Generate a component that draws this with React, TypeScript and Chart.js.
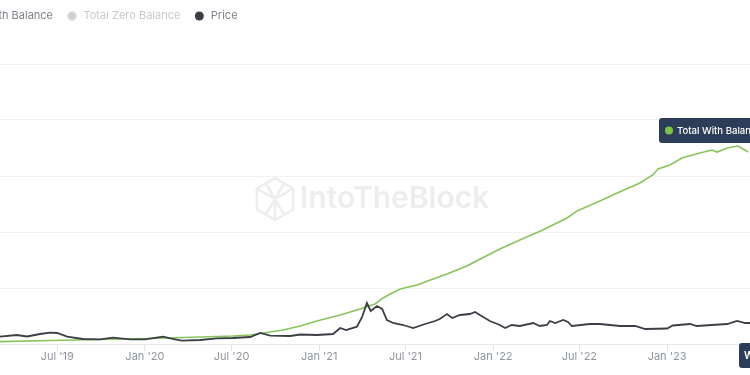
import React, { useEffect, useRef } from "react";
import { Chart, registerables } from "chart.js";

Chart.register(...registerables);

// ---- Axis ----
const axisStart = "2019-03-03";
const axisEnd = "2023-06-24";
const xTickDates = ["2019-07-01", "2020-01-01", "2020-07-01", "2021-01-01", "2021-07-01", "2022-01-01", "2022-07-01", "2023-01-01"];
const xTickLabels = ["Jul '19", "Jan '20", "Jul '20", "Jan '21", "Jul '21", "Jan '22", "Jul '22", "Jan '23"];

// ---- Total With Balance (left scale, thousands of addresses) ----
const withBalanceDates = [
  "2019-03-03", "2019-06-16", "2019-09-29", "2020-01-12", "2020-04-26", "2020-07-04", "2020-08-09",
  "2020-10-17", "2020-11-22", "2020-12-27", "2021-02-14", "2021-03-28", "2021-04-28", "2021-05-15",
  "2021-05-30", "2021-06-20", "2021-07-25", "2021-08-28", "2021-09-26", "2021-11-07", "2021-12-05",
  "2022-01-15", "2022-02-26", "2022-04-15", "2022-06-05", "2022-06-26", "2022-08-13", "2022-09-09",
  "2022-11-05", "2022-12-02", "2022-12-13", "2023-01-07", "2023-02-01", "2023-03-11", "2023-04-05",
  "2023-04-16", "2023-05-07", "2023-05-30", "2023-06-20",
];
const withBalanceValues = [
  2.1, 3.1, 4.0, 4.9, 6.3, 7.1, 8.0,
  12.5, 16.1, 20.5, 25.9, 31.2, 35.7, 41.1,
  44.6, 49.1, 52.7, 58.0, 62.5, 69.6, 75.9,
  84.8, 92.9, 101.8, 112.5, 118.8, 127.7, 133.0,
  143.8, 150.9, 156.3, 159.8, 166.1, 170.5, 173.2,
  171.4, 175.0, 176.8, 171.4,
];

// ---- Total Zero Balance (hidden in the reference) ----
const zeroBalanceDates: string[] = [];
const zeroBalanceValues: number[] = [];

// ---- Price (right scale) ----
const priceDates = [
  "2019-03-03", "2019-04-07", "2019-04-29", "2019-05-26", "2019-06-16", "2019-07-01", "2019-07-22",
  "2019-08-24", "2019-09-29", "2019-10-26", "2019-12-01", "2020-01-01", "2020-02-08", "2020-03-04",
  "2020-03-19", "2020-04-26", "2020-05-31", "2020-07-04", "2020-08-09", "2020-08-30", "2020-09-20",
  "2020-11-01", "2020-11-22", "2020-12-27", "2021-01-30", "2021-02-14", "2021-02-26", "2021-03-21",
  "2021-04-01", "2021-04-11", "2021-04-19", "2021-05-02", "2021-05-13", "2021-05-23", "2021-06-05",
  "2021-06-26", "2021-07-10", "2021-07-17", "2021-08-11", "2021-09-01", "2021-09-11", "2021-09-26",
  "2021-10-07", "2021-10-23", "2021-11-13", "2021-11-24", "2021-12-04", "2021-12-25", "2022-01-15",
  "2022-01-26", "2022-02-09", "2022-02-26", "2022-03-26", "2022-04-09", "2022-04-24", "2022-04-30",
  "2022-05-11", "2022-05-28", "2022-06-07", "2022-06-15", "2022-07-23", "2022-08-13", "2022-09-24",
  "2022-10-26", "2022-11-16", "2023-01-01", "2023-01-13", "2023-02-18", "2023-03-04", "2023-05-07",
  "2023-05-28", "2023-06-14", "2023-06-24",
];
const priceValues = [
  0.73, 0.9, 0.75, 1.0, 1.13, 1.1, 0.73,
  0.5, 0.47, 0.63, 0.47, 0.47, 0.73, 0.47,
  0.33, 0.4, 0.57, 0.6, 0.7, 1.1, 0.83,
  0.8, 0.95, 0.9, 1.0, 1.6, 1.4, 1.73,
  2.7, 4.1, 3.3, 3.8, 3.5, 2.4, 2.1,
  1.9, 1.7, 1.6, 2.0, 2.3, 2.5, 3.0,
  2.6, 2.9, 3.0, 3.2, 2.9, 2.3, 1.9,
  1.6, 1.9, 1.8, 2.1, 1.8, 1.9, 2.3,
  2.1, 2.4, 2.2, 1.8, 2.0, 2.0, 1.8,
  1.8, 1.5, 1.55, 1.85, 2.0, 1.8, 2.0,
  2.3, 2.1, 2.1,
];

const DAY = 86400000;
const toDay = (s: string) => Date.parse(s + "T00:00:00Z") / DAY;
const toPoints = (dates: string[], values: number[]) => dates.map((d, i) => ({ x: toDay(d), y: values[i] }));

const GREEN = "#87c55c";
const PRICE = "#3b3f46";
const NAVY = "#2c3d5a";

const overlayPlugin = {
  id: "overlay",
  beforeDatasetsDraw(chart: any) {
    const { ctx, chartArea } = chart;
    const cx = (chartArea.left + chartArea.right) / 2;
    const cy = (chartArea.top + chartArea.bottom) / 2 - 5;
    ctx.save();
    // logo
    const lx = cx - 100, r = 21;
    ctx.strokeStyle = "#ededed";
    ctx.lineWidth = 2.5;
    ctx.lineJoin = "round";
    ctx.beginPath();
    for (let i = 0; i < 6; i++) {
      const a = -Math.PI / 2 + (i * Math.PI) / 3;
      const px = lx + r * Math.cos(a), py = cy + r * Math.sin(a);
      if (i === 0) ctx.moveTo(px, py); else ctx.lineTo(px, py);
    }
    ctx.closePath();
    ctx.stroke();
    ctx.beginPath();
    const v = (i: number) => { const a = -Math.PI / 2 + (i * Math.PI) / 3; return [lx + r * Math.cos(a), cy + r * Math.sin(a)]; };
    const [x1, y1] = v(1), [x3, y3] = v(3), [x5, y5] = v(5), [x0, y0] = v(0), [x2, y2] = v(2), [x4, y4] = v(4);
    ctx.moveTo(x5, y5); ctx.lineTo(lx, cy); ctx.lineTo(x1, y1);
    ctx.moveTo(lx, cy); ctx.lineTo(x3, y3);
    ctx.moveTo((x0 + x5) / 2, (y0 + y5) / 2); ctx.lineTo((x2 + x3) / 2, (y2 + y3) / 2);
    ctx.moveTo((x0 + x1) / 2, (y0 + y1) / 2); ctx.lineTo((x4 + x3) / 2, (y4 + y3) / 2);
    ctx.stroke();
    // text
    ctx.fillStyle = "#ededed";
    ctx.font = "600 30px Inter";
    ctx.textBaseline = "alphabetic";
    ctx.textAlign = "left";
    ctx.fillText("IntoTheBlock", cx - 75, cy + 9);
    ctx.restore();
  },
  afterDraw(chart: any) {
    const { ctx, chartArea } = chart;
    ctx.save();
    // legend
    ctx.font = "11px Inter";
    ctx.textBaseline = "middle";
    ctx.textAlign = "left";
    let x = -55;
    const y = 16;
    chart.data.datasets.forEach((ds: any) => {
      const hidden = !!ds.hidden;
      ctx.fillStyle = hidden ? "#d2d2d2" : ds.borderColor;
      ctx.beginPath();
      ctx.arc(x, y, 4.5, 0, Math.PI * 2);
      ctx.fill();
      ctx.fillStyle = hidden ? "#c9c9c9" : "#7d828a";
      ctx.fillText(ds.label, x + 11.5, y);
      x += 11.5 + ctx.measureText(ds.label).width + 19;
    });
    // tooltip box
    const tx = chartArea.right - 91, ty = chartArea.top + 54;
    ctx.fillStyle = NAVY;
    ctx.beginPath();
    ctx.roundRect(tx, ty, 140, 25, 3);
    ctx.fill();
    ctx.fillStyle = "#7cc444";
    ctx.beginPath();
    ctx.arc(tx + 10, ty + 12.5, 4, 0, Math.PI * 2);
    ctx.fill();
    ctx.fillStyle = "#ffffff";
    ctx.font = "500 9.6px Inter";
    ctx.fillText("Total With Balance", tx + 18, ty + 13);
    // crosshair date label
    const bx = chartArea.right - 11, by = chartArea.bottom - 1;
    ctx.fillStyle = NAVY;
    ctx.beginPath();
    ctx.roundRect(bx, by, 80, 25, 3);
    ctx.fill();
    ctx.fillStyle = "#ffffff";
    ctx.font = "600 10px Inter";
    ctx.fillText("W", bx + 5, by + 12.5);
    ctx.restore();
  },
};

export default function App() {
  const ref = useRef<HTMLCanvasElement | null>(null);
  useEffect(() => {
    document.body.style.margin = "0";
    if (!ref.current) return;
    Chart.defaults.font.family = "Inter";
    const chart = new Chart(ref.current, {
      type: "line",
      data: {
        datasets: [
          {
            label: "Total With Balance",
            data: toPoints(withBalanceDates, withBalanceValues),
            borderColor: GREEN,
            borderWidth: 1.6,
            pointRadius: 0,
            tension: 0,
            yAxisID: "y",
            order: 1,
          } as any,
          {
            label: "Total Zero Balance",
            data: toPoints(zeroBalanceDates, zeroBalanceValues),
            borderColor: "#cccccc",
            borderWidth: 1.6,
            pointRadius: 0,
            hidden: true,
            yAxisID: "y",
            order: 2,
          },
          {
            label: "Price",
            data: toPoints(priceDates, priceValues),
            borderColor: PRICE,
            borderWidth: 1.8,
            pointRadius: 0,
            tension: 0,
            yAxisID: "y1",
            order: 0,
          },
        ],
      },
      options: {
        animation: false,
        responsive: false,
        parsing: false as any,
        layout: { padding: { top: 64, left: 0, right: 0, bottom: 0 } },
        plugins: { legend: { display: false }, tooltip: { enabled: false } },
        scales: {
          x: {
            type: "linear",
            min: toDay(axisStart),
            max: toDay(axisEnd),
            afterBuildTicks: (s: any) => {
              s.ticks = xTickDates.map((d) => ({ value: toDay(d) }));
            },
            afterFit: (s: any) => {
              s.height = 31;
            },
            ticks: {
              autoSkip: false,
              maxRotation: 0,
              padding: -1,
              color: "#8f959c",
              font: { size: 11 },
              callback: (_v: any, i: number) => xTickLabels[i],
            },
            grid: { display: true, drawOnChartArea: false, drawTicks: true, tickLength: 7, color: "#dfe2e6" },
            border: { display: true, color: "#e3e6ea" },
          },
          y: {
            position: "left",
            min: 0,
            max: 250,
            ticks: { display: false, stepSize: 50 },
            grid: { color: "#f2f2f2", drawTicks: false },
            border: { display: false },
            afterFit: (s: any) => {
              s.width = 0;
            },
          },
          y1: {
            position: "right",
            display: false,
            min: 0,
            max: 28,
          },
        },
      },
      plugins: [overlayPlugin],
    });
    return () => chart.destroy();
  }, []);
  return (
    <div style={{ width: 750, height: 375, overflow: "hidden", background: "#fff" }}>
      <canvas ref={ref} width={750} height={375} style={{ display: "block" }} />
    </div>
  );
}
